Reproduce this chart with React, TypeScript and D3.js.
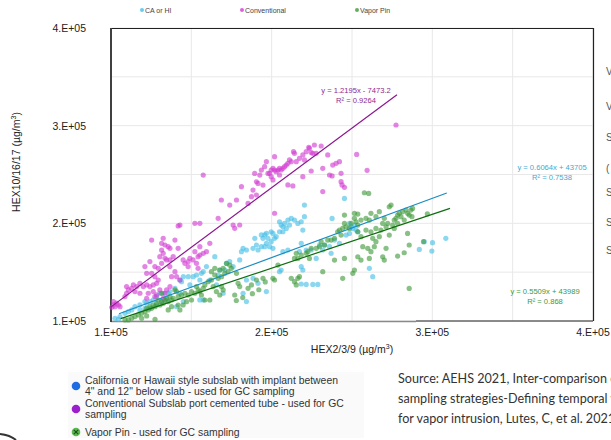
import * as d3 from 'd3';

// values in thousands of µg/m³: [HEX2/3/9, HEX10/16/17]
const caHi: [number, number][] = [
  [196.7, 189.8], [195.7, 188.1], [194.6, 184.6], [193.6, 188.1], [197.7, 184.6], [196.7, 179.5],
  [195.7, 176.1], [193.6, 176.1], [190.5, 177.8], [189.5, 184.6], [188.4, 174.4], [191.5, 172.7],
  [184.3, 172.7], [182.2, 174.4], [181.2, 171.0], [180.1, 162.5], [164.6, 165.9], [159.4, 155.7],
  [157.4, 150.5], [156.3, 148.8], [153.2, 147.1], [151.2, 145.4], [155.3, 142.0], [145.0, 145.4],
  [142.9, 142.0], [143.9, 140.3], [148.1, 145.4], [149.1, 136.9], [139.8, 133.5], [136.7, 130.1],
  [135.6, 128.4], [132.5, 128.4], [130.5, 128.4], [128.4, 125.0], [126.3, 121.6], [124.3, 119.9],
  [122.2, 118.2], [121.1, 119.9], [118.0, 116.5], [114.9, 114.7], [112.9, 111.3], [110.8, 109.6],
  [108.7, 107.9], [105.6, 104.5], [102.5, 102.8], [104.6, 101.8], [121.1, 113.0], [118.0, 111.3],
  [124.3, 113.0], [128.4, 116.5], [131.5, 119.9], [134.6, 121.6], [140.8, 114.7], [145.0, 119.9],
  [155.3, 121.6], [157.4, 121.6], [142.9, 128.4], [171.9, 159.1], [173.9, 160.8], [170.8, 152.2],
  [176.0, 155.7], [167.7, 152.2], [166.7, 147.1], [165.7, 136.9], [161.5, 142.0], [169.8, 128.4],
  [182.2, 128.4], [184.3, 142.0], [188.4, 143.7], [191.5, 138.6], [196.7, 130.1], [184.3, 119.9],
  [245.3, 225.5], [220.4, 218.7], [199.7, 191.4], [200.8, 189.7], [204.9, 201.6], [205.9, 198.2],
  [207.0, 196.5], [208.0, 199.9], [209.1, 194.8], [210.1, 203.3], [211.1, 198.2], [212.2, 205.0],
  [214.2, 203.3], [216.3, 199.9], [218.4, 201.6], [220.4, 206.8], [219.4, 193.1], [204.9, 191.4],
  [207.0, 191.4], [201.8, 184.6], [199.7, 181.2], [202.8, 186.3], [237.6, 205.0], [248.4, 199.9],
  [249.4, 196.5], [250.5, 194.8], [251.5, 198.2], [252.5, 193.1], [253.6, 191.4], [248.4, 189.7],
  [246.3, 188.0], [210.1, 172.7], [207.0, 171.0], [200.8, 174.4], [198.7, 176.1], [218.4, 179.5],
  [217.3, 171.0], [221.5, 172.7], [224.6, 172.7], [227.7, 164.1], [231.8, 172.7], [232.9, 177.8],
  [236.0, 176.1], [237.0, 169.3], [239.1, 182.9], [242.2, 179.5], [229.8, 177.8], [218.4, 155.6],
  [219.4, 152.2], [204.9, 150.5], [205.9, 152.2], [260.8, 153.9], [262.9, 145.4], [218.4, 137.9],
  [221.5, 137.5], [225.6, 137.5], [228.7, 137.5], [291.9, 173.3], [295.0, 181.2], [300.1, 180.2],
  [299.7, 171.6], [308.4, 184.6],
];

const conventional: [number, number][] = [
  [230.8, 279.2], [226.6, 280.2], [223.5, 276.8], [221.5, 273.4], [224.6, 272.4], [225.6, 271.7],
  [227.7, 271.7], [223.1, 277.8], [219.4, 270.0], [217.3, 266.6], [220.4, 264.9], [215.3, 263.1],
  [214.2, 271.7], [213.6, 273.4], [211.1, 264.9], [212.2, 263.1], [210.1, 261.4], [209.1, 259.7],
  [208.0, 258.0], [207.0, 256.3], [204.9, 256.3], [203.9, 254.6], [202.8, 252.9], [201.8, 254.6],
  [200.8, 256.3], [199.7, 254.6], [198.7, 251.2], [201.8, 268.3], [205.9, 254.6], [204.9, 249.5],
  [200.8, 244.4], [199.7, 247.8], [219.4, 247.8], [224.6, 253.6], [231.8, 256.3], [234.9, 270.0],
  [238.0, 259.7], [240.1, 261.4], [242.2, 263.1], [243.2, 251.2], [236.0, 249.5], [237.6, 248.5],
  [231.8, 232.5], [243.8, 239.3], [245.3, 236.9], [243.2, 242.7], [252.9, 270.6], [259.4, 254.3],
  [210.1, 239.3], [213.2, 238.3], [201.8, 210.3], [277.4, 300.7],
  [197.7, 251.1], [196.7, 263.1], [195.6, 258.0], [193.6, 254.5], [192.6, 249.4], [189.4, 251.1],
  [190.5, 242.6], [191.5, 240.9], [194.6, 239.2], [188.4, 234.1], [190.5, 229.0], [187.4, 227.3],
  [185.3, 220.4], [181.2, 237.5], [178.1, 223.9], [173.9, 218.7], [168.7, 223.9], [166.7, 205.1],
  [180.1, 198.3], [176.0, 198.3], [177.0, 194.9], [157.4, 249.4], [155.3, 200.0], [152.2, 200.0],
  [142.9, 198.3], [141.8, 197.3], [161.5, 179.5],
  [125.3, 182.9], [132.5, 184.6], [131.5, 179.5], [133.6, 177.8], [135.6, 176.1], [136.7, 174.4],
  [131.5, 172.7], [132.5, 169.3], [130.4, 165.9], [133.6, 164.2], [134.6, 162.5], [131.5, 159.1],
  [129.4, 153.9], [127.3, 155.7], [124.2, 160.8], [121.1, 155.7], [122.2, 148.8], [125.3, 148.8],
  [127.3, 145.4], [129.4, 142.0], [128.4, 138.6], [126.3, 136.9], [124.2, 135.2], [122.2, 136.9],
  [120.1, 135.2], [118.0, 138.6], [116.0, 135.2], [113.9, 136.9], [112.8, 133.5], [109.7, 135.2],
  [110.8, 131.8], [114.9, 130.1], [118.0, 128.4], [123.2, 128.4], [126.3, 130.1], [130.4, 131.8],
  [128.4, 126.7], [127.3, 125.0], [136.6, 155.7], [137.7, 145.4], [139.8, 150.5], [140.8, 145.4],
  [139.8, 182.9], [138.7, 165.9], [136.7, 162.5], [144.9, 162.5], [146.0, 159.1], [148.0, 160.8],
  [149.1, 164.2], [151.1, 162.5], [153.2, 159.1], [154.2, 165.9], [155.3, 167.6], [157.4, 169.3],
  [159.4, 171.0], [155.3, 176.1], [152.2, 171.0], [141.8, 174.4], [142.9, 142.0], [136.7, 135.2],
  [134.6, 131.8], [133.6, 128.4], [132.5, 123.3], [122.2, 123.3], [101.5, 116.5], [102.5, 114.7],
  [104.6, 116.5], [105.6, 114.7], [103.5, 118.2], [109.7, 128.4], [108.7, 125.0], [154.2, 153.9],
  [148.0, 155.7], [101.5, 119.9], [100.5, 114.0],
];

const vaporPin: [number, number][] = [
  [173.9, 157.3], [174.9, 153.9], [172.9, 150.5], [170.8, 148.8], [168.8, 145.4], [166.7, 143.7],
  [164.6, 147.1], [162.5, 142.0], [163.6, 135.2], [160.5, 140.3], [158.4, 136.9], [157.4, 133.5],
  [155.3, 130.1], [154.3, 131.8], [152.2, 128.4], [150.1, 130.1], [148.1, 126.6], [146.0, 128.4],
  [143.9, 126.6], [141.8, 124.9], [140.8, 130.1], [138.7, 123.2], [137.7, 121.5], [136.7, 124.9],
  [135.6, 119.8], [134.6, 123.2], [133.6, 121.5], [132.5, 118.1], [131.5, 119.8], [130.5, 116.4],
  [129.4, 121.5], [128.4, 118.1], [127.4, 114.7], [126.3, 116.4], [125.3, 113.0], [124.2, 114.7],
  [123.2, 111.3], [122.2, 113.0], [121.1, 109.6], [119.1, 107.9], [117.0, 106.2], [114.9, 104.5],
  [112.9, 102.8], [110.8, 101.1], [108.7, 101.1], [127.4, 101.8], [119.1, 102.8], [122.2, 105.2],
  [144.9, 116.4], [137.7, 114.7], [135.6, 111.3], [141.8, 116.4], [158.4, 121.5], [156.3, 126.6],
  [167.7, 126.6], [168.8, 135.2], [165.6, 130.1], [169.8, 131.8], [177.0, 126.6], [179.1, 138.6],
  [180.1, 135.2], [178.1, 148.8], [185.3, 133.5], [187.4, 136.9], [190.5, 142.0], [194.6, 143.7],
  [131.5, 128.3], [139.8, 131.8], [150.1, 121.5], [161.5, 121.5], [142.9, 111.3], [147.0, 119.8],
  [153.2, 135.2], [164.6, 153.9], [167.7, 152.2], [171.9, 159.0], [169.8, 153.9], [162.5, 150.5],
  [188.0, 128.0], [182.0, 124.0], [196.0, 140.0], [192.0, 132.0], [178.0, 121.0],
  [257.7, 231.3], [260.4, 230.6], [245.3, 208.5], [251.5, 210.2], [253.6, 209.5], [249.4, 199.9],
  [245.3, 199.9], [246.3, 196.5], [244.2, 194.8], [242.2, 193.1], [243.2, 188.0], [241.1, 191.4],
  [239.1, 184.6], [237.0, 182.9], [234.9, 182.9], [232.9, 177.8], [230.8, 181.2], [229.8, 176.1],
  [227.7, 174.4], [224.6, 174.4], [222.5, 171.0], [221.5, 169.3], [218.4, 167.5], [216.3, 164.1],
  [214.2, 164.1], [223.5, 164.1], [215.3, 169.3], [252.5, 201.6], [255.6, 203.3], [258.7, 205.1],
  [260.8, 203.3], [261.8, 210.2], [264.9, 206.8], [267.0, 211.9], [269.1, 199.9], [270.1, 205.1],
  [271.2, 196.5], [272.2, 199.9], [273.2, 217.0], [274.3, 218.7], [275.3, 198.2], [276.3, 203.3],
  [277.4, 205.1], [278.4, 208.5], [279.4, 210.2], [280.5, 206.8], [281.5, 211.9], [283.6, 213.6],
  [284.6, 210.2], [285.6, 208.5], [286.7, 213.6], [287.7, 215.3], [287.3, 206.8], [282.5, 203.3],
  [278.4, 199.9], [276.3, 194.8], [273.2, 188.0], [268.0, 193.1], [264.9, 194.8], [261.8, 191.4],
  [258.7, 193.1], [255.6, 186.3], [253.6, 191.4], [262.9, 184.6], [264.9, 181.2], [267.0, 186.3],
  [256.7, 176.1], [259.8, 174.4], [263.9, 176.1], [269.1, 165.8], [270.1, 162.4], [271.2, 174.4],
  [278.4, 166.5], [282.5, 169.9], [284.6, 189.7], [285.6, 177.8], [294.5, 181.2], [261.8, 171.0],
  [253.6, 165.8], [251.5, 152.2], [250.5, 148.8], [244.2, 143.7], [239.1, 162.4], [245.3, 164.1],
  [255.6, 162.4], [231.8, 150.5], [217.3, 145.4], [216.3, 143.7], [214.2, 140.3], [215.3, 136.9],
  [212.2, 143.7], [200.8, 143.7], [201.8, 142.0], [203.9, 157.3], [285.6, 133.4], [260.8, 164.1],
  [251.5, 205.1], [248.4, 194.8], [253.6, 198.2], [296.9, 209.6],
];

const series = [
  { name: 'CA or HI', data: caHi, color: '#45bfe6', line: '#1b8cc4', label: '#3ea9d4', slope: 0.6064, icpt: 43705, r2: '0.7538', range: [105, 309], eq: 'y = 0.6064x + 43705' },
  { name: 'Conventional', data: conventional, color: '#d23cd2', line: '#8c1790', label: '#8e2a92', slope: 1.2195, icpt: -7473.2, r2: '0.9264', range: [100, 278], eq: 'y = 1.2195x - 7473.2' },
  { name: 'Vapor Pin', data: vaporPin, color: '#3f9a3a', line: '#0d6d0d', label: '#3b9a3b', slope: 0.5509, icpt: 43989, r2: '0.868', range: [106, 311], eq: 'y = 0.5509x + 43989' },
];

const ticks = [1e5, 2e5, 3e5, 4e5];
const gridTicks = [1e5, 1.5e5, 2e5, 2.5e5, 3e5, 3.5e5, 4e5];
const legendNotes = [
  { color: '#1f6de3', lines: ['California or Hawaii style subslab with implant between', '4" and 12" below slab - used for GC sampling'] },
  { color: '#9b1fcc', lines: ['Conventional Subslab port cemented tube - used for GC', 'sampling'] },
  { color: '#5ab84f', lines: ['Vapor Pin - used for GC sampling'] },
];
const sourceLines = [
  'Source: AEHS 2021, Inter-comparison of vapor intrusion',
  'sampling strategies-Defining temporal variability',
  'for vapor intrusion, Lutes, C, et al. 2021',
];
const edgeLetters = ['V', 'V', 'S', '(', 'S', 'S', 'S'];

const font = 'Liberation Sans, Arial, sans-serif';

export default function App() {
  const x = d3.scaleLinear().domain([1e5, 4e5]).range([111, 593]);
  const y = d3.scaleLinear().domain([1e5, 4e5]).range([321, 28]);
  const fmt = (v: number) => `${v / 1e5}.E+05`;

  const labelPos: Record<string, [number, number]> = {
    'CA or HI': [552, 170],
    Conventional: [356, 93],
    'Vapor Pin': [545, 294],
  };
  const topLegendX = [142, 242, 357];

  return (
    <svg width={611} height={440} style={{ position: 'absolute', left: 0, top: 0, background: '#fff' }} fontFamily={font}>
      <rect width={611} height={440} fill="#fff" />
      {/* gridlines */}
      {gridTicks.map((t) => (
        <g key={t}>
          <line x1={x(t)} x2={x(t)} y1={y(4e5)} y2={y(1e5)} stroke="#e8e8e8" strokeWidth={1} />
          <line x1={x(1e5)} x2={x(4e5)} y1={y(t)} y2={y(t)} stroke="#e8e8e8" strokeWidth={1} />
        </g>
      ))}
      {/* frame */}
      <line x1={x(1e5)} x2={x(4e5)} y1={y(4e5) + 0.5} y2={y(4e5) + 0.5} stroke="#222" strokeWidth={1} />
      <line x1={x(4e5) + 0.5} x2={x(4e5) + 0.5} y1={y(4e5)} y2={y(1e5)} stroke="#222" strokeWidth={1.2} />
      <line x1={416} x2={x(4e5)} y1={y(1e5)} y2={y(1e5)} stroke="#222" strokeWidth={1.2} />
      <line x1={x(1e5)} x2={416} y1={y(1e5) + 0.5} y2={y(1e5) + 0.5} stroke="#8a8a8a" strokeWidth={1.5} />
      <line x1={x(1e5)} x2={x(1e5)} y1={y(4e5)} y2={y(1e5) + 1} stroke="#404040" strokeWidth={2} />

      {/* points */}
      {series.map((s) => (
        <g key={s.name} fill={s.color} fillOpacity={0.62}>
          {s.data.map((d, i) => (
            <circle key={i} cx={x(d[0] * 1000)} cy={y(d[1] * 1000)} r={2.6} />
          ))}
        </g>
      ))}

      {/* trendlines */}
      {series.map((s) => {
        const [a, b] = s.range.map((v) => v * 1000);
        return (
          <line key={s.name} x1={x(a)} y1={y(s.slope * a + s.icpt)} x2={x(b)} y2={y(s.slope * b + s.icpt)} stroke={s.line} strokeWidth={1.2} />
        );
      })}
      {series.map((s) => {
        const [lx, ly] = labelPos[s.name];
        return (
          <text key={s.name} x={lx} y={ly} fill={s.label} fontSize={7.6} textAnchor="middle">
            <tspan x={lx}>{s.eq}</tspan>
            <tspan x={lx} dy={9.5}>R² = {s.r2}</tspan>
          </text>
        );
      })}

      {/* axes labels */}
      {ticks.map((t) => (
        <g key={t} fontSize={10.5} fill="#222">
          <text x={86} y={y(t) + 4} textAnchor="end">{fmt(t)}</text>
          <text x={x(t)} y={336} textAnchor="middle">{fmt(t)}</text>
        </g>
      ))}
      <text x={352} y={353} textAnchor="middle" fontSize={10.5} fill="#222">
        HEX2/3/9 (µg/m<tspan dy={-4} fontSize={7}>3</tspan><tspan dy={4}>)</tspan>
      </text>
      <text transform="translate(20,162) rotate(-90)" textAnchor="middle" fontSize={10.5} fill="#222">
        HEX10/16/17 (µg/m<tspan dy={-4} fontSize={7}>3</tspan><tspan dy={4}>)</tspan>
      </text>

      {/* top legend */}
      {series.map((s, i) => (
        <g key={s.name}>
          <circle cx={topLegendX[i]} cy={10} r={2} fill={s.color} fillOpacity={0.8} />
          <text x={topLegendX[i] + 3} y={12.5} fontSize={7} fill="#444">{s.name}</text>
        </g>
      ))}

      {/* bottom legend */}
      <rect x={68} y={372} width={296} height={66} fill="#fafafa" />
      {legendNotes.map((n, i) => {
        const cy = [386, 409, 432][i];
        const y0 = cy - (n.lines.length - 1) * 5.5 + 3.5;
        return (
          <g key={i}>
            <circle cx={76} cy={cy} r={4.3} fill={n.color} />
            {i === 2 && (
              <g stroke="#1d4d1a" strokeWidth={1.1}>
                <line x1={73.8} y1={cy - 2.2} x2={78.2} y2={cy + 2.2} />
                <line x1={73.8} y1={cy + 2.2} x2={78.2} y2={cy - 2.2} />
              </g>
            )}
            {n.lines.map((l, j) => (
              <text key={j} x={85} y={y0 + j * 11} fontSize={10.4} fill="#333">{l}</text>
            ))}
          </g>
        );
      })}

      {/* source */}
      {sourceLines.map((l, i) => (
        <text key={i} x={398} y={383 + i * 20} fontSize={12.6} fill="#333" fontFamily="Lato, Open Sans, sans-serif">{l}</text>
      ))}
      {edgeLetters.map((l, i) => (
        <text key={i} x={606} y={[75, 110, 141, 172, 196, 226, 254][i]} fontSize={10} fill="#555">{l}</text>
      ))}
      <path d="M0,434 Q10,435 16,440" fill="none" stroke="#333" strokeWidth={2} />
    </svg>
  );
}
